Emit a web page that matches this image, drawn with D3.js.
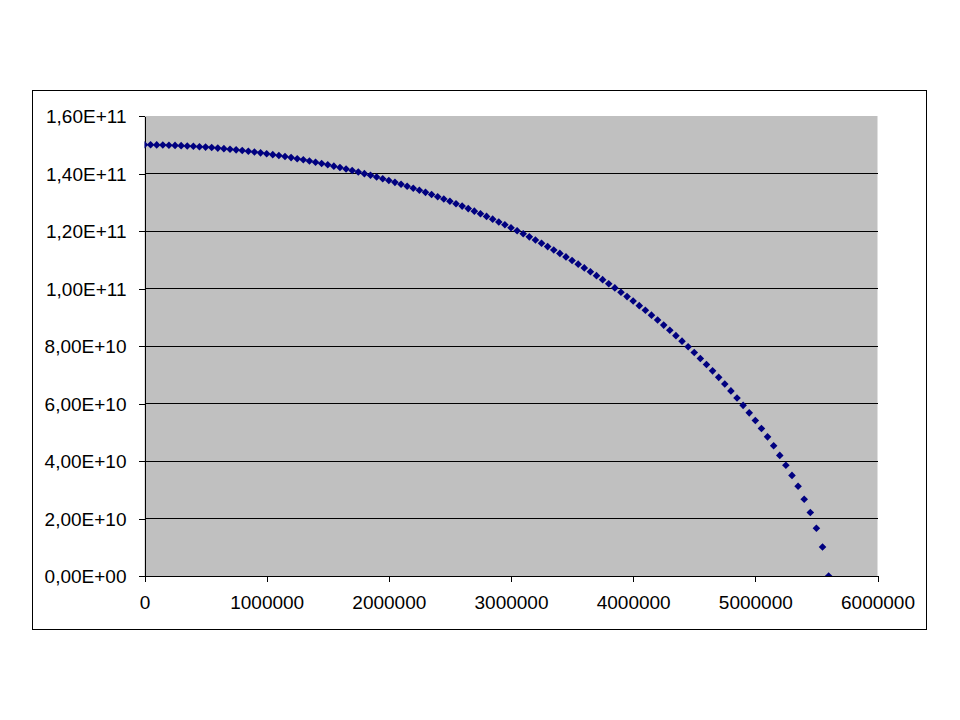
<!DOCTYPE html>
<html>
<head>
<meta charset="utf-8">
<script src="https://cdn.jsdelivr.net/npm/d3@7/dist/d3.min.js"></script>
<style>
  body { margin: 0; background: #fff; }
  text { font-family: Arial, "Liberation Sans", sans-serif; }
</style>
</head>
<body>
<div id="chart"></div>
<script>
// time (s) and distance (units of 1E9 m)
var time = [
  0, 50000, 100000, 150000, 200000, 250000, 300000, 350000, 400000, 450000,
  500000, 550000, 600000, 650000, 700000, 750000, 800000, 850000, 900000, 950000,
  1000000, 1050000, 1100000, 1150000, 1200000, 1250000, 1300000, 1350000, 1400000, 1450000,
  1500000, 1550000, 1600000, 1650000, 1700000, 1750000, 1800000, 1850000, 1900000, 1950000,
  2000000, 2050000, 2100000, 2150000, 2200000, 2250000, 2300000, 2350000, 2400000, 2450000,
  2500000, 2550000, 2600000, 2650000, 2700000, 2750000, 2800000, 2850000, 2900000, 2950000,
  3000000, 3050000, 3100000, 3150000, 3200000, 3250000, 3300000, 3350000, 3400000, 3450000,
  3500000, 3550000, 3600000, 3650000, 3700000, 3750000, 3800000, 3850000, 3900000, 3950000,
  4000000, 4050000, 4100000, 4150000, 4200000, 4250000, 4300000, 4350000, 4400000, 4450000,
  4500000, 4550000, 4600000, 4650000, 4700000, 4750000, 4800000, 4850000, 4900000, 4950000,
  5000000, 5050000, 5100000, 5150000, 5200000, 5250000, 5300000, 5350000, 5400000, 5450000,
  5500000, 5550000, 5600000
];
var distance = [
  150.00, 149.98, 149.95, 149.91, 149.85, 149.78, 149.69, 149.58, 149.47, 149.33,
  149.18, 149.02, 148.84, 148.65, 148.44, 148.22, 147.98, 147.73, 147.46, 147.18,
  146.88, 146.56, 146.24, 145.89, 145.53, 145.15, 144.76, 144.35, 143.93, 143.49,
  143.03, 142.56, 142.07, 141.57, 141.04, 140.51, 139.95, 139.38, 138.79, 138.18,
  137.56, 136.92, 136.26, 135.58, 134.89, 134.18, 133.44, 132.70, 131.93, 131.14,
  130.33, 129.50, 128.66, 127.79, 126.90, 126.00, 125.07, 124.12, 123.15, 122.16,
  121.15, 120.11, 119.04, 117.96, 116.85, 115.72, 114.57, 113.40, 112.21, 110.99,
  109.74, 108.47, 107.16, 105.83, 104.47, 103.08, 101.66, 100.20, 98.71, 97.19,
  95.63, 94.04, 92.41, 90.73, 89.02, 87.27, 85.46, 83.60, 81.69, 79.73,
  77.72, 75.66, 73.54, 71.35, 69.10, 66.78, 64.38, 61.91, 59.35, 56.75,
  54.10, 51.30, 48.40, 45.30, 41.95, 38.50, 35.00, 31.20, 26.70, 22.10,
  16.60, 10.10, 0.00
];
var unit = 1e9;

var xTicks = [0, 1000000, 2000000, 3000000, 4000000, 5000000, 6000000];
var xTickLabels = ["0", "1000000", "2000000", "3000000", "4000000", "5000000", "6000000"];
var yTicks = [0, 2e10, 4e10, 6e10, 8e10, 1e11, 1.2e11, 1.4e11, 1.6e11];
var yTickLabels = ["0,00E+00", "2,00E+10", "4,00E+10", "6,00E+10", "8,00E+10",
                   "1,00E+11", "1,20E+11", "1,40E+11", "1,60E+11"];

var width = 960;
var height = 720;
var plot = { left: 144.5, right: 877.5, top: 116, bottom: 576 };

var svg = d3.select('#chart').append('svg')
    .attr('width', width)
    .attr('height', height);

// outer chart frame
svg.append('rect')
    .attr('x', 32.5)
    .attr('y', 90.5)
    .attr('width', 894)
    .attr('height', 539)
    .attr('fill', 'white')
    .attr('stroke', 'black')
    .attr('stroke-width', 1);

var x = d3.scaleLinear().domain([0, 6000000]).range([plot.left, plot.right]);
var y = d3.scaleLinear().domain([0, 1.6e11]).range([plot.bottom, plot.top]);

// plot area
svg.append('rect')
    .attr('x', plot.left)
    .attr('y', plot.top)
    .attr('width', plot.right - plot.left)
    .attr('height', plot.bottom - plot.top)
    .attr('fill', '#c0c0c0');

// gridlines
svg.append('g').selectAll('line')
    .data(yTicks.filter(function (d) { return d > 0 && d < 1.6e11; }))
    .enter().append('line')
    .attr('x1', plot.left)
    .attr('x2', plot.right)
    .attr('y1', function (d) { return y(d); })
    .attr('y2', function (d) { return y(d); })
    .attr('stroke', 'black')
    .attr('shape-rendering', 'crispEdges');

// axes
var yAxis = svg.append('g')
    .attr('transform', 'translate(' + plot.left + ',0)')
    .call(d3.axisLeft(y).tickValues(yTicks).tickSize(6).tickSizeOuter(0)
        .tickFormat(function (d, i) { return yTickLabels[i]; }));

var xAxis = svg.append('g')
    .attr('transform', 'translate(0,' + plot.bottom + ')')
    .call(d3.axisBottom(x).tickValues(xTicks).tickSize(6).tickSizeOuter(0)
        .tickFormat(function (d, i) { return xTickLabels[i]; }));

[xAxis, yAxis].forEach(function (ax) {
  ax.selectAll('path, line')
      .attr('stroke', 'black')
      .attr('shape-rendering', 'crispEdges');
  ax.selectAll('text')
      .attr('fill', 'black')
      .style('font-size', '19px')
      .style('font-family', 'Arial, "Liberation Sans", sans-serif');
});
yAxis.selectAll('text').attr('x', -18).attr('dy', '0.35em');
xAxis.selectAll('text').attr('y', 20).attr('dy', '0.71em');

// markers, clipped to the plot area
svg.append('clipPath').attr('id', 'plotclip')
  .append('rect')
    .attr('x', plot.left)
    .attr('y', plot.top - 10)
    .attr('width', plot.right - plot.left)
    .attr('height', plot.bottom - plot.top + 10);

var r = 3.8;
svg.append('g')
    .attr('clip-path', 'url(#plotclip)')
  .selectAll('path')
    .data(time)
    .enter().append('path')
    .attr('transform', function (d, i) {
      return 'translate(' + x(d) + ',' + y(distance[i] * unit) + ')';
    })
    .attr('d', 'M0,' + (-r) + 'L' + r + ',0L0,' + r + 'L' + (-r) + ',0Z')
    .attr('fill', '#000080');
</script>
</body>
</html>
